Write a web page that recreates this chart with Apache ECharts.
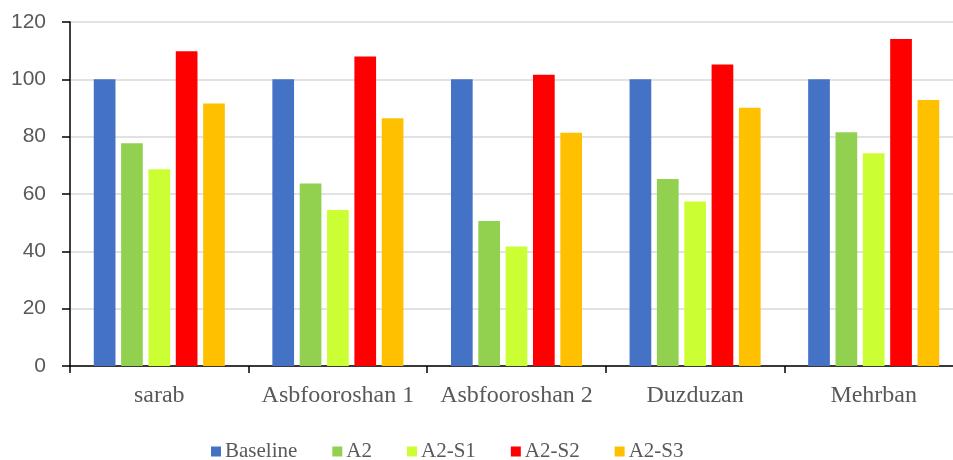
<!DOCTYPE html>
<html><head><meta charset="utf-8">
<script src="https://cdn.jsdelivr.net/npm/echarts@6/dist/echarts.min.js"></script>
<style>html,body{margin:0;padding:0;background:#fff;overflow:hidden}#c{width:963px;height:460px}</style>
</head><body><div id="c"></div>
<script>
const categories = ['sarab', 'Asbfooroshan 1', 'Asbfooroshan 2', 'Duzduzan', 'Mehrban'];
const seriesNames = ['Baseline', 'A2', 'A2-S1', 'A2-S2', 'A2-S3'];
const baseline = [100, 100, 100, 100, 100];
const a2 = [77.7, 63.7, 50.6, 65.2, 81.5];
const a2s1 = [68.6, 54.4, 41.7, 57.4, 74.2];
const a2s2 = [109.8, 108.0, 101.6, 105.2, 114.1];
const a2s3 = [91.6, 86.4, 81.4, 90.1, 92.8];
const colors = ['#4472C4', '#92D050', '#CCFF33', '#FF0000', '#FFC000'];
const values = [baseline, a2, a2s1, a2s2, a2s3];

const chart = echarts.init(document.getElementById('c'));
chart.setOption({
  animation: false,
  grid: {left: 70, top: 22, bottom: 94, right: 0, containLabel: false},
  legend: {
    left: 211, top: 441, padding: 0, itemWidth: 10, itemHeight: 10, itemGap: 35, icon: 'rect',
    textStyle: {fontFamily: 'Liberation Serif', fontSize: 21, color: '#595959', padding: [0,0,0,-1]},
    data: seriesNames
  },
  xAxis: {
    type: 'category', data: categories,
    axisLine: {lineStyle: {color: '#000', width: 1.5}},
    axisTick: {show: true, length: 7, lineStyle: {color: '#000', width: 1.5}},
    axisLabel: {interval: 0, fontFamily: 'Liberation Serif', fontSize: 24, color: '#595959', margin: 18}
  },
  yAxis: {
    type: 'value', min: 0, max: 120, interval: 20,
    axisLine: {show: true, lineStyle: {color: '#000', width: 1.5}},
    axisTick: {show: true, length: 8, lineStyle: {color: '#000', width: 1.5}},
    axisLabel: {fontFamily: 'Liberation Sans', fontSize: 21, color: '#595959', margin: 24},
    splitLine: {lineStyle: {color: '#D9D9D9', width: 1.5}}
  },
  series: seriesNames.map((n, i) => ({
    name: n, type: 'bar', data: values[i],
    barWidth: 21.7, barGap: '26%', barCategoryGap: '26%',
    itemStyle: {color: colors[i]}
  }))
});
</script></body></html>
